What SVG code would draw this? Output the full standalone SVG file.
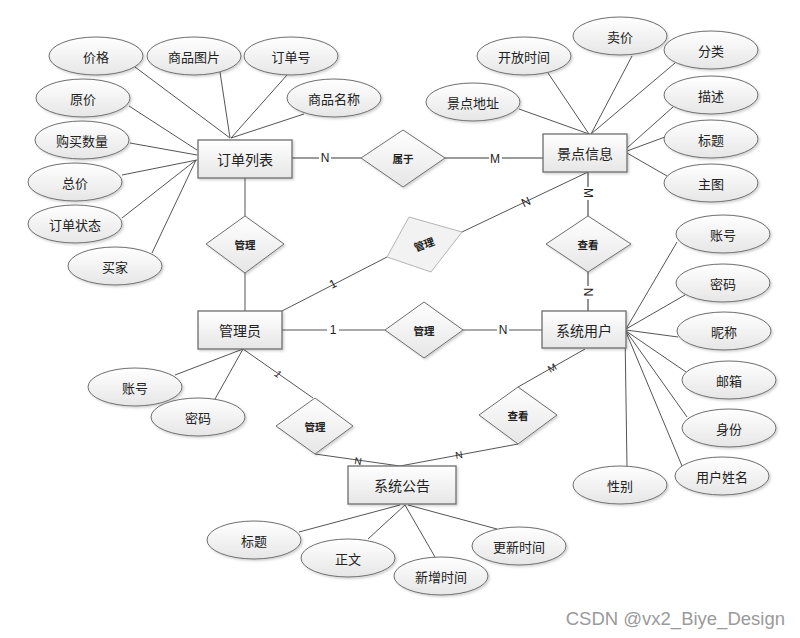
<svg xmlns="http://www.w3.org/2000/svg" width="800" height="638" viewBox="0 0 800 638">
<defs>
<linearGradient id="g" x1="0" y1="0" x2="0" y2="1">
<stop offset="0" stop-color="#ffffff"/>
<stop offset="1" stop-color="#e6e6e6"/>
</linearGradient>
<filter id="sh" x="-20%" y="-20%" width="140%" height="150%">
<feDropShadow dx="1.5" dy="1.5" stdDeviation="1" flood-color="#000" flood-opacity="0.18"/>
</filter>
<style>
.ent{fill:url(#g);stroke:#6e6e6e;stroke-width:1.3;filter:url(#sh)}
.att{fill:url(#g);stroke:#6e6e6e;stroke-width:1;filter:url(#sh)}
.rel{fill:url(#g);stroke:#6e6e6e;stroke-width:1;filter:url(#sh)}
.relg{fill:#f2f2f2;stroke:#b4b4b4;stroke-width:1}
.al{stroke:#555;stroke-width:1;fill:none}
.rl{stroke:#7a7a7a;stroke-width:1.6;fill:none}
.t{font-family:"Noto Sans CJK SC","Noto Sans",sans-serif;font-size:13px;fill:#222;text-anchor:middle;dominant-baseline:central}
.te{font-family:"Noto Sans CJK SC","Noto Sans",sans-serif;font-size:14px;fill:#222;text-anchor:middle;dominant-baseline:central}
.tr{font-family:"Noto Sans CJK SC","Noto Sans",sans-serif;font-size:10.5px;font-weight:bold;fill:#222;text-anchor:middle;dominant-baseline:central}
.lb{font-family:"Liberation Sans",Arial,sans-serif;font-size:12px;fill:#222;text-anchor:middle;dominant-baseline:central}
.lbs{font-family:"Liberation Sans",Arial,sans-serif;font-size:10px;fill:#222;text-anchor:middle;dominant-baseline:central}
</style>
</defs>
<rect width="800" height="638" fill="#ffffff"/>

<g id="connectors">
<!-- attribute lines: 订单列表 -->
<line class="al" x1="135" y1="67" x2="230" y2="138"/>
<line class="al" x1="220" y1="72" x2="230" y2="138" stroke="#222"/>
<line class="al" x1="287" y1="75" x2="231" y2="138"/>
<line class="al" x1="304" y1="114" x2="231" y2="138"/>
<line class="al" x1="129" y1="106" x2="197" y2="150"/>
<line class="al" x1="130" y1="143" x2="197" y2="155"/>
<line class="al" x1="122" y1="175" x2="197" y2="160"/>
<line class="al" x1="122" y1="218" x2="196" y2="160"/>
<line class="al" x1="152" y1="253" x2="196" y2="160"/>
<!-- 景点信息 -->
<line class="al" x1="519" y1="109" x2="589" y2="134"/>
<line class="al" x1="548" y1="73" x2="589" y2="134"/>
<line class="al" x1="632" y1="56" x2="591" y2="134"/>
<line class="al" x1="675" y1="63" x2="591" y2="134"/>
<line class="al" x1="673" y1="107" x2="627" y2="148"/>
<line class="al" x1="665" y1="137" x2="627" y2="151"/>
<line class="al" x1="667" y1="176" x2="627" y2="153" stroke="#222"/>
<!-- 系统用户 -->
<line class="al" x1="677" y1="242" x2="626" y2="329"/>
<line class="al" x1="685" y1="295" x2="626" y2="329"/>
<line class="al" x1="678" y1="337" x2="626" y2="330"/>
<line class="al" x1="686" y1="372" x2="626" y2="331"/>
<line class="al" x1="687" y1="417" x2="626" y2="331"/>
<line class="al" x1="682" y1="466" x2="626" y2="332"/>
<line class="al" x1="627" y1="467" x2="625" y2="332"/>
<!-- 管理员 -->
<line class="al" x1="175" y1="375" x2="243" y2="349"/>
<line class="al" x1="215" y1="399" x2="243" y2="349"/>
<!-- 系统公告 -->
<line class="al" x1="299" y1="532" x2="400" y2="505"/>
<line class="al" x1="368" y1="539" x2="405" y2="505"/>
<line class="al" x1="435" y1="557" x2="405" y2="505"/>
<line class="al" x1="497" y1="529" x2="408" y2="505"/>

<!-- relationship lines -->
<line class="rl" x1="292" y1="158" x2="361" y2="158"/>
<line class="rl" x1="445" y1="158" x2="543" y2="158"/>
<line class="al" x1="245" y1="178" x2="245" y2="216"/>
<line class="al" x1="245" y1="273" x2="245" y2="311"/>
<line class="al" x1="282" y1="311" x2="387" y2="257"/>
<line class="al" x1="462" y1="232" x2="588" y2="172"/>
<line class="rl" x1="588" y1="172" x2="588" y2="216"/>
<line class="rl" x1="588" y1="272" x2="588" y2="311"/>
<line class="al" x1="282" y1="330" x2="385" y2="330"/>
<line class="al" x1="463" y1="330" x2="542" y2="330"/>
<line class="al" x1="243" y1="349" x2="313" y2="398"/>
<line class="al" x1="315" y1="454" x2="400" y2="466"/>
<line class="al" x1="585" y1="349" x2="518" y2="387"/>
<line class="al" x1="518" y1="444" x2="400" y2="466"/>

<!-- cardinality labels -->
<g>
<rect x="319" y="151" width="12" height="14" fill="#fff"/>
<text class="lb" x="325" y="158">N</text>
<rect x="489" y="152" width="13" height="14" fill="#fff"/>
<text class="lb" x="495" y="159">M</text>
<text class="lb" x="333" y="284" transform="rotate(-27 333 284)" fill="#222">1</text>
<text class="lb" x="526" y="202" transform="rotate(-25 526 202)">N</text>
<rect x="581" y="187" width="14" height="13" fill="#fff"/>
<text class="lb" x="588" y="193" transform="rotate(90 588 193)">M</text>
<rect x="581" y="286" width="14" height="13" fill="#fff"/>
<text class="lb" x="588" y="292" transform="rotate(90 588 292)">N</text>
<rect x="327" y="323" width="12" height="14" fill="#fff"/>
<text class="lb" x="333" y="330">1</text>
<rect x="497" y="323" width="12" height="14" fill="#fff"/>
<text class="lb" x="503" y="330">N</text>
<text class="lbs" x="278" y="374" transform="rotate(35 278 374)" font-style="italic">1</text>
<text class="lbs" x="358" y="461" transform="rotate(8 358 461)">N</text>
<text class="lbs" x="552" y="368" transform="rotate(-30 552 368)">M</text>
<text class="lbs" x="459" y="455" transform="rotate(-10 459 455)">N</text>
</g>
</g>

<g id="e-order"><rect class="ent" x="198" y="140" width="94" height="38"/><text class="te" x="245" y="159">订单列表</text></g>
<g id="e-scenic"><rect class="ent" x="543" y="134" width="84" height="38"/><text class="te" x="585" y="153">景点信息</text></g>
<g id="e-admin"><rect class="ent" x="198" y="311" width="84" height="38"/><text class="te" x="240" y="330">管理员</text></g>
<g id="e-user"><rect class="ent" x="542" y="311" width="84" height="37"/><text class="te" x="584" y="330">系统用户</text></g>
<g id="e-notice"><rect class="ent" x="348" y="466" width="108" height="38"/><text class="te" x="402" y="485">系统公告</text></g>

<g id="r-belong"><polygon class="rel" points="403,130 445,158 403,187 361,158"/><text class="tr" x="403" y="158">属于</text></g>
<g id="r-manage1"><polygon class="rel" points="245,216 284,244 245,273 206,244"/><text class="tr" x="245" y="244">管理</text></g>
<g id="r-manage2"><polygon class="relg" points="409,217 462,232 431,272 387,257"/><text class="tr" x="424" y="244" font-weight="normal" fill="#888" transform="rotate(-20 424 244)">管理</text></g>
<g id="r-view1"><polygon class="rel" points="588,216 631,244 588,272 546,244"/><text class="tr" x="588" y="244">查看</text></g>
<g id="r-manage3"><polygon class="rel" points="424,302 463,330 424,358 385,330"/><text class="tr" x="424" y="330">管理</text></g>
<g id="r-manage4"><polygon class="rel" points="315,398 353,426 315,454 276,426"/><text class="tr" x="315" y="426">管理</text></g>
<g id="r-view2"><polygon class="rel" points="518,387 557,415 518,444 479,415"/><text class="tr" x="518" y="415">查看</text></g>

<g id="a-price"><ellipse class="att" cx="96" cy="56" rx="47" ry="19"/><text class="t" x="96" y="56">价格</text></g>
<g id="a-img"><ellipse class="att" cx="194" cy="56" rx="47" ry="19"/><text class="t" x="194" y="56">商品图片</text></g>
<g id="a-orderno"><ellipse class="att" cx="291" cy="56" rx="47" ry="19"/><text class="t" x="291" y="56">订单号</text></g>
<g id="a-gname"><ellipse class="att" cx="334" cy="98" rx="47" ry="19"/><text class="t" x="334" y="98">商品名称</text></g>
<g id="a-oprice"><ellipse class="att" cx="83" cy="98" rx="47" ry="19"/><text class="t" x="83" y="98">原价</text></g>
<g id="a-qty"><ellipse class="att" cx="82" cy="140" rx="47" ry="19"/><text class="t" x="82" y="140">购买数量</text></g>
<g id="a-total"><ellipse class="att" cx="75" cy="182" rx="47" ry="19"/><text class="t" x="75" y="182">总价</text></g>
<g id="a-status"><ellipse class="att" cx="75" cy="224" rx="47" ry="19"/><text class="t" x="75" y="224">订单状态</text></g>
<g id="a-buyer"><ellipse class="att" cx="115" cy="266" rx="47" ry="19"/><text class="t" x="115" y="266">买家</text></g>

<g id="a-open"><ellipse class="att" cx="524" cy="56" rx="47" ry="19"/><text class="t" x="524" y="56">开放时间</text></g>
<g id="a-sell"><ellipse class="att" cx="620" cy="36" rx="47" ry="19"/><text class="t" x="620" y="36">卖价</text></g>
<g id="a-cat"><ellipse class="att" cx="711" cy="50" rx="47" ry="19"/><text class="t" x="711" y="50">分类</text></g>
<g id="a-addr"><ellipse class="att" cx="473" cy="102" rx="47" ry="19"/><text class="t" x="473" y="102">景点地址</text></g>
<g id="a-desc"><ellipse class="att" cx="711" cy="95" rx="47" ry="19"/><text class="t" x="711" y="95">描述</text></g>
<g id="a-title"><ellipse class="att" cx="711" cy="139" rx="47" ry="19"/><text class="t" x="711" y="139">标题</text></g>
<g id="a-pic"><ellipse class="att" cx="711" cy="183" rx="47" ry="19"/><text class="t" x="711" y="183">主图</text></g>

<g id="a-uacc"><ellipse class="att" cx="723" cy="234" rx="47" ry="19"/><text class="t" x="723" y="234">账号</text></g>
<g id="a-upwd"><ellipse class="att" cx="723" cy="283" rx="47" ry="19"/><text class="t" x="723" y="283">密码</text></g>
<g id="a-nick"><ellipse class="att" cx="724" cy="331" rx="47" ry="19"/><text class="t" x="724" y="331">昵称</text></g>
<g id="a-mail"><ellipse class="att" cx="729" cy="380" rx="47" ry="19"/><text class="t" x="729" y="380">邮箱</text></g>
<g id="a-role"><ellipse class="att" cx="729" cy="428" rx="47" ry="19"/><text class="t" x="729" y="428">身份</text></g>
<g id="a-uname"><ellipse class="att" cx="722" cy="476" rx="47" ry="19"/><text class="t" x="722" y="476">用户姓名</text></g>
<g id="a-sex"><ellipse class="att" cx="620" cy="485" rx="47" ry="19"/><text class="t" x="620" y="485">性别</text></g>

<g id="a-aacc"><ellipse class="att" cx="135" cy="387" rx="47" ry="19"/><text class="t" x="135" y="387">账号</text></g>
<g id="a-apwd"><ellipse class="att" cx="198" cy="417" rx="47" ry="19"/><text class="t" x="198" y="417">密码</text></g>

<g id="a-ntitle"><ellipse class="att" cx="254" cy="540" rx="47" ry="19"/><text class="t" x="254" y="540">标题</text></g>
<g id="a-body"><ellipse class="att" cx="348" cy="558" rx="47" ry="19"/><text class="t" x="348" y="558">正文</text></g>
<g id="a-add"><ellipse class="att" cx="441" cy="576" rx="47" ry="19"/><text class="t" x="441" y="576">新增时间</text></g>
<g id="a-upd"><ellipse class="att" cx="519" cy="546" rx="47" ry="19"/><text class="t" x="519" y="546">更新时间</text></g>

<text x="785" y="625" font-family="'Liberation Sans',Arial,sans-serif" font-size="18.5" fill="#9a9a9a" text-anchor="end">CSDN @vx2_Biye_Design</text>
</svg>
